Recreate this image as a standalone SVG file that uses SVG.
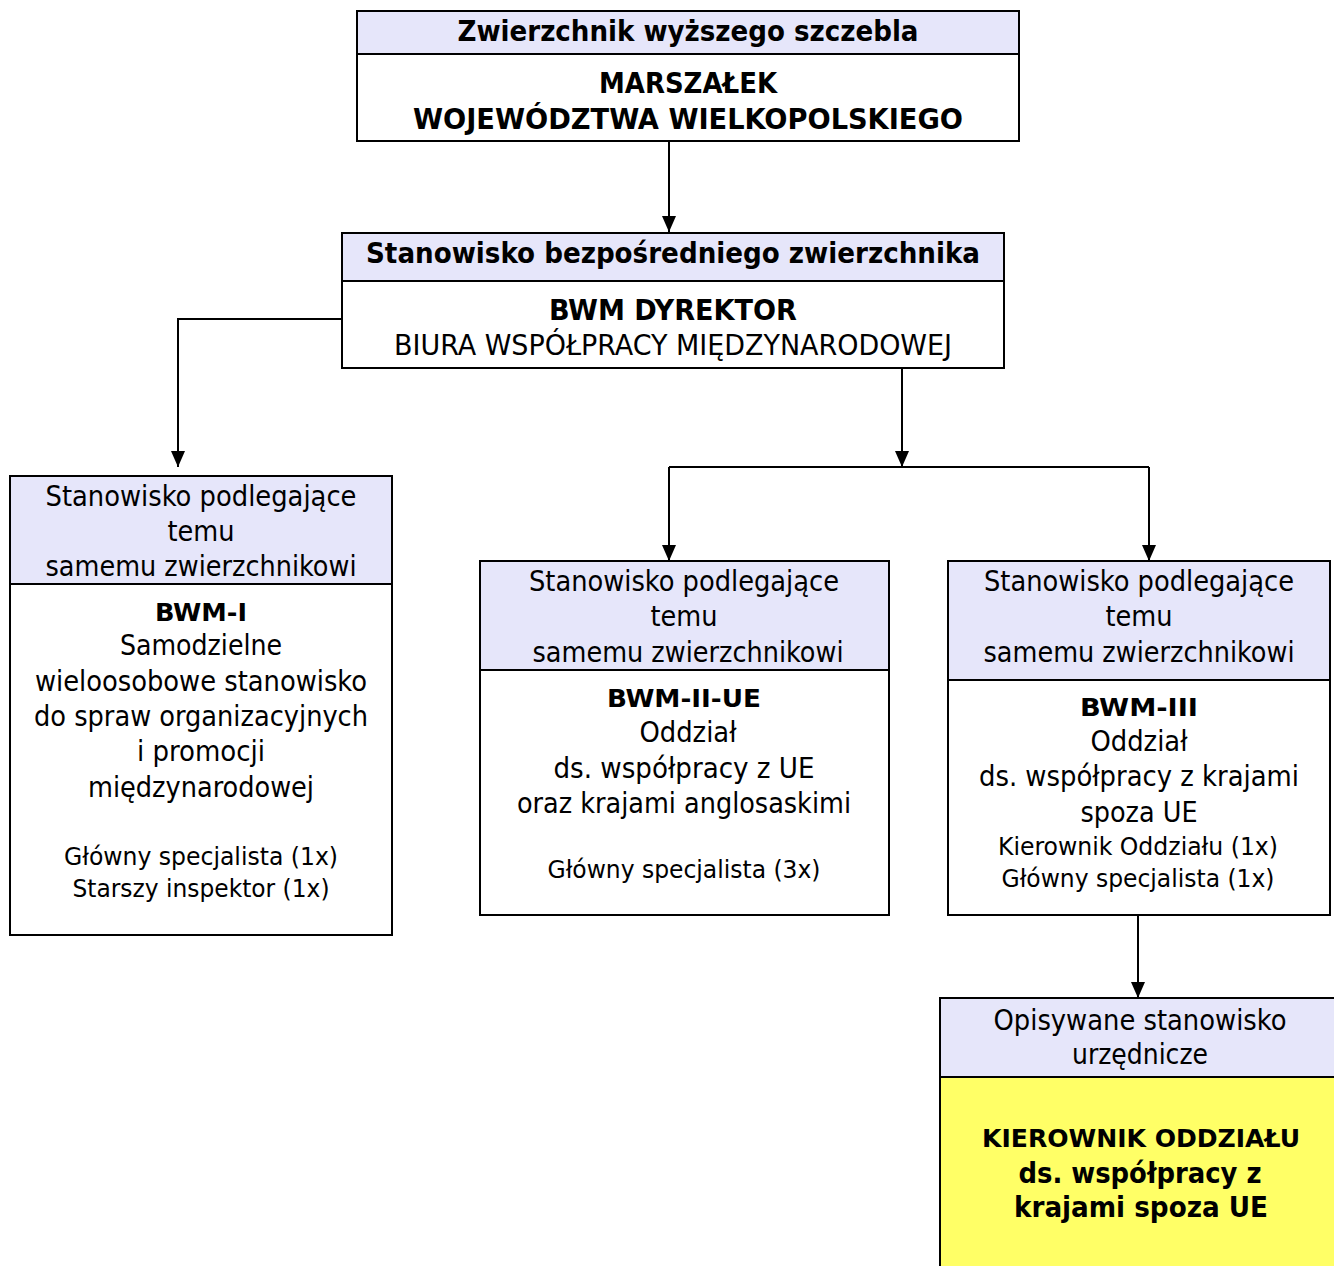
<svg xmlns="http://www.w3.org/2000/svg" width="1334" height="1266" viewBox="0 0 1334 1266">
<defs>
<marker id="arr" markerUnits="userSpaceOnUse" markerWidth="16" markerHeight="16" viewBox="0 0 16 16" refX="16" refY="8" orient="auto">
<path d="M0,1 L16,8 L0,15 Z" fill="#000"/>
</marker>
<style>
.box{fill:#fff;stroke:#000;stroke-width:2}
.hd{fill:#e6e6fa;stroke:#000;stroke-width:2}
.yel{fill:#ffff66;stroke:#000;stroke-width:2}
.c{fill:none;stroke:#000;stroke-width:2}
text{font-family:"DejaVu Sans Condensed","DejaVu Sans",sans-serif;fill:#000;text-anchor:middle}
.n{font-size:28px}
.s{font-size:24px}
.b{font-size:28px;font-weight:bold}
.bs{font-size:24px;font-weight:bold}
</style>
</defs>
<g id="connectors">
<path class="c" d="M669,141 V232" marker-end="url(#arr)"/>
<path class="c" d="M342,319 H178 V467" marker-end="url(#arr)"/>
<path class="c" d="M902,368 V467" marker-end="url(#arr)"/>
<path class="c" d="M669,467 H1149"/>
<path class="c" d="M669,467 V561" marker-end="url(#arr)"/>
<path class="c" d="M1149,467 V561" marker-end="url(#arr)"/>
<path class="c" d="M1138,915 V998" marker-end="url(#arr)"/>
</g>
<g id="marszalek">
<rect class="box" x="357" y="11" width="662" height="130"/>
<rect class="hd" x="357" y="11" width="662" height="43"/>
<text class="b" x="688" y="41" textLength="461" lengthAdjust="spacingAndGlyphs">Zwierzchnik wyższego szczebla</text>
<text class="b" x="688" y="93" textLength="178" lengthAdjust="spacingAndGlyphs">MARSZAŁEK</text>
<text class="b" x="688" y="129" textLength="550" lengthAdjust="spacingAndGlyphs">WOJEWÓDZTWA WIELKOPOLSKIEGO</text>
</g>
<g id="dyrektor">
<rect class="box" x="342" y="233" width="662" height="135"/>
<rect class="hd" x="342" y="233" width="662" height="48"/>
<text class="b" x="673" y="263" textLength="614" lengthAdjust="spacingAndGlyphs">Stanowisko bezpośredniego zwierzchnika</text>
<text class="b" x="673" y="320" textLength="248" lengthAdjust="spacingAndGlyphs">BWM DYREKTOR</text>
<text class="n" x="673" y="355" textLength="558" lengthAdjust="spacingAndGlyphs">BIURA WSPÓŁPRACY MIĘDZYNARODOWEJ</text>
</g>
<g id="bwm-i">
<rect class="box" x="10" y="476" width="382" height="459"/>
<rect class="hd" x="10" y="476" width="382" height="108"/>
<text class="n" x="201" y="506" textLength="311" lengthAdjust="spacingAndGlyphs">Stanowisko podlegające</text>
<text class="n" x="201" y="541" textLength="67" lengthAdjust="spacingAndGlyphs">temu</text>
<text class="n" x="201" y="576" textLength="311" lengthAdjust="spacingAndGlyphs">samemu zwierzchnikowi</text>
<text class="bs" x="201" y="621" textLength="92" lengthAdjust="spacingAndGlyphs">BWM-I</text>
<text class="n" x="201" y="655" textLength="162" lengthAdjust="spacingAndGlyphs">Samodzielne</text>
<text class="n" x="201" y="691" textLength="332" lengthAdjust="spacingAndGlyphs">wieloosobowe stanowisko</text>
<text class="n" x="201" y="726" textLength="334" lengthAdjust="spacingAndGlyphs">do spraw organizacyjnych</text>
<text class="n" x="201" y="761" textLength="128" lengthAdjust="spacingAndGlyphs">i promocji</text>
<text class="n" x="201" y="797" textLength="226" lengthAdjust="spacingAndGlyphs">międzynarodowej</text>
<text class="s" x="201" y="865" textLength="274" lengthAdjust="spacingAndGlyphs">Główny specjalista (1x)</text>
<text class="s" x="201" y="897" textLength="257" lengthAdjust="spacingAndGlyphs">Starszy inspektor (1x)</text>
</g>
<g id="bwm-ii-ue">
<rect class="box" x="480" y="561" width="409" height="354"/>
<rect class="hd" x="480" y="561" width="409" height="109"/>
<text class="n" x="684" y="591" textLength="310" lengthAdjust="spacingAndGlyphs">Stanowisko podlegające</text>
<text class="n" x="684" y="626" textLength="67" lengthAdjust="spacingAndGlyphs">temu</text>
<text class="n" x="688" y="662" textLength="311" lengthAdjust="spacingAndGlyphs">samemu zwierzchnikowi</text>
<text class="bs" x="684" y="707" textLength="154" lengthAdjust="spacingAndGlyphs">BWM-II-UE</text>
<text class="n" x="688" y="742" textLength="97" lengthAdjust="spacingAndGlyphs">Oddział</text>
<text class="n" x="684" y="778" textLength="261" lengthAdjust="spacingAndGlyphs">ds. współpracy z UE</text>
<text class="n" x="684" y="813" textLength="334" lengthAdjust="spacingAndGlyphs">oraz krajami anglosaskimi</text>
<text class="s" x="684" y="878" textLength="273" lengthAdjust="spacingAndGlyphs">Główny specjalista (3x)</text>
</g>
<g id="bwm-iii">
<rect class="box" x="948" y="561" width="382" height="354"/>
<rect class="hd" x="948" y="561" width="382" height="119"/>
<text class="n" x="1139" y="591" textLength="310" lengthAdjust="spacingAndGlyphs">Stanowisko podlegające</text>
<text class="n" x="1139" y="626" textLength="67" lengthAdjust="spacingAndGlyphs">temu</text>
<text class="n" x="1139" y="662" textLength="311" lengthAdjust="spacingAndGlyphs">samemu zwierzchnikowi</text>
<text class="bs" x="1139" y="716" textLength="118" lengthAdjust="spacingAndGlyphs">BWM-III</text>
<text class="n" x="1139" y="751" textLength="97" lengthAdjust="spacingAndGlyphs">Oddział</text>
<text class="n" x="1139" y="786" textLength="320" lengthAdjust="spacingAndGlyphs">ds. współpracy z krajami</text>
<text class="n" x="1139" y="822" textLength="117" lengthAdjust="spacingAndGlyphs">spoza UE</text>
<text class="s" x="1138" y="855" textLength="280" lengthAdjust="spacingAndGlyphs">Kierownik Oddziału (1x)</text>
<text class="s" x="1138" y="887" textLength="273" lengthAdjust="spacingAndGlyphs">Główny specjalista (1x)</text>
</g>
<g id="kierownik">
<rect class="yel" x="940" y="998" width="420" height="300"/>
<rect class="hd" x="940" y="998" width="420" height="79"/>
<text class="n" x="1140" y="1030" textLength="293" lengthAdjust="spacingAndGlyphs">Opisywane stanowisko</text>
<text class="n" x="1140" y="1064" textLength="136" lengthAdjust="spacingAndGlyphs">urzędnicze</text>
<text class="bs" x="1141" y="1147" textLength="318" lengthAdjust="spacingAndGlyphs">KIEROWNIK ODDZIAŁU</text>
<text class="b" x="1140" y="1183" textLength="243" lengthAdjust="spacingAndGlyphs">ds. współpracy z</text>
<text class="b" x="1141" y="1217" textLength="254" lengthAdjust="spacingAndGlyphs">krajami spoza UE</text>
</g>
</svg>
